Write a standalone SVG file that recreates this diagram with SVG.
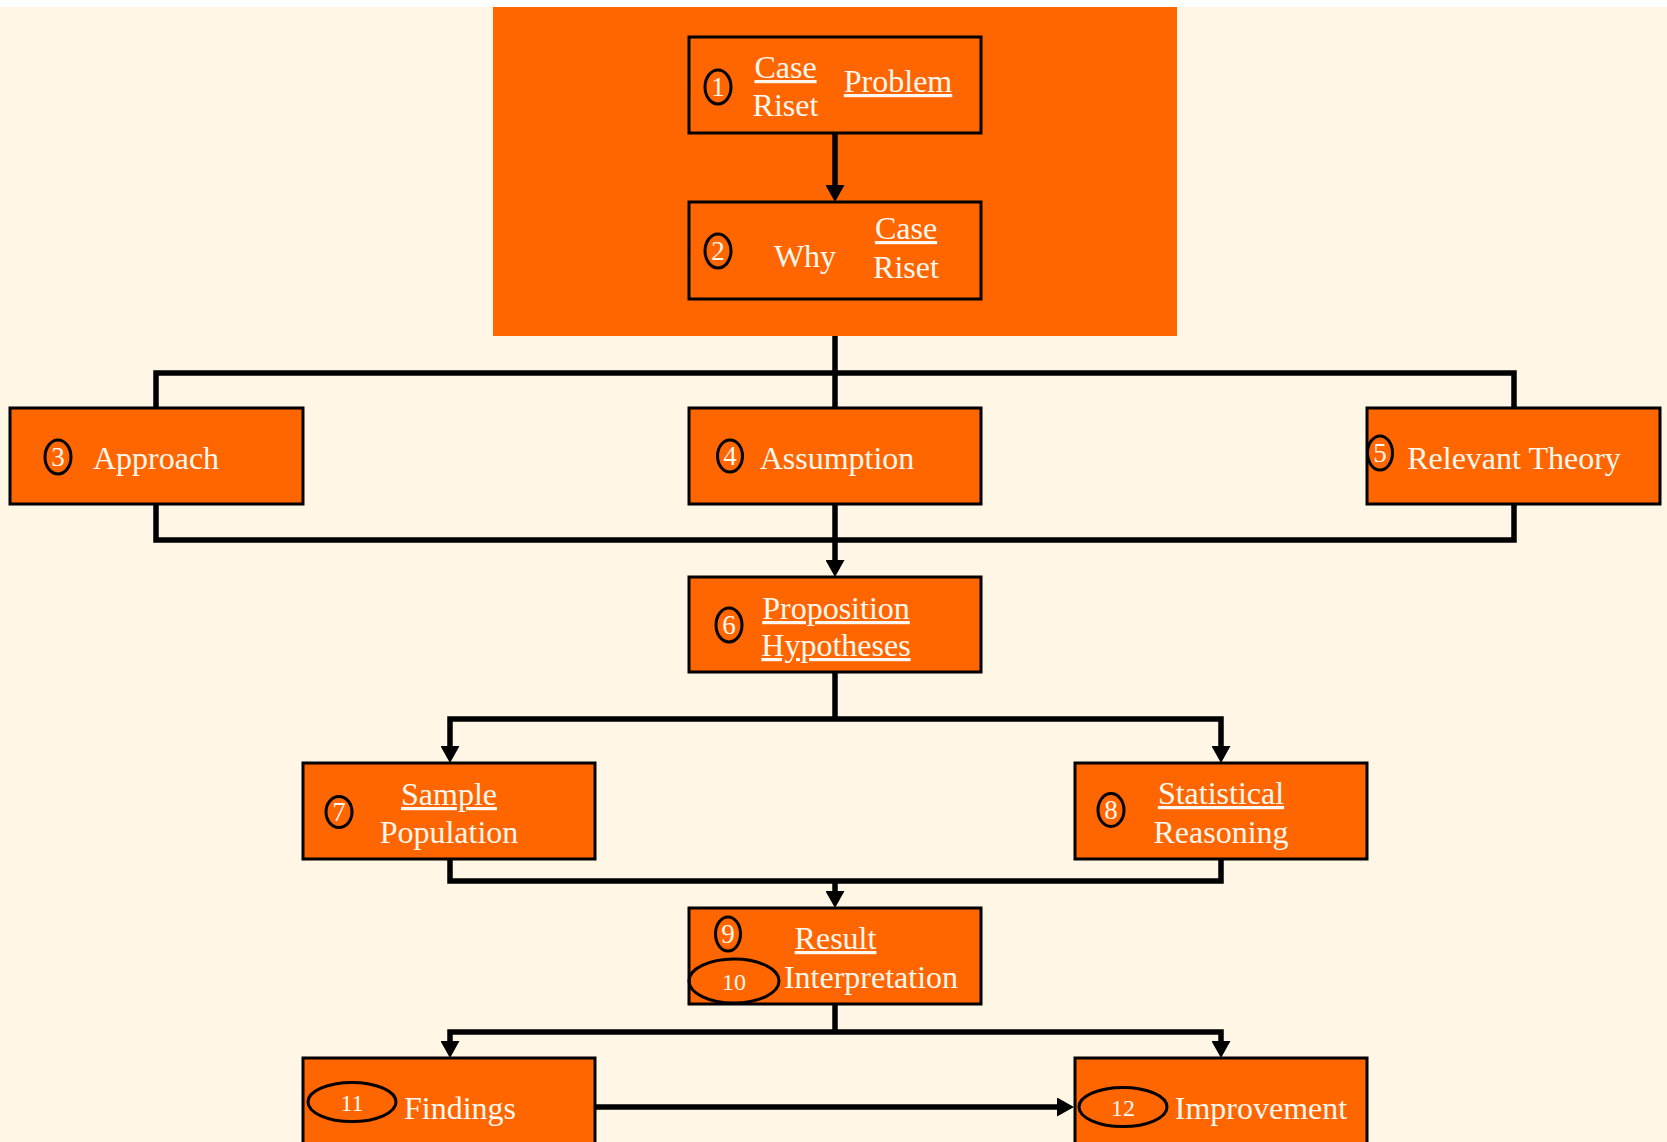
<svg xmlns="http://www.w3.org/2000/svg" width="1667" height="1142" viewBox="0 0 1667 1142">
<style>
.box{fill:#FF6600;stroke:#000;stroke-width:3}
.conn{fill:none;stroke:#000;stroke-width:5.5;stroke-linejoin:miter}
.t{font-family:"Liberation Serif","Times New Roman",serif;font-size:32px;fill:#FFF8F0}
.u{text-decoration:underline}
.m{text-anchor:middle}
.num{fill:none;stroke:#000;stroke-width:3}
.d{font-family:"Liberation Serif","Times New Roman",serif;font-size:27px;fill:#FFF8F0;text-anchor:middle}
.d2{font-family:"Liberation Serif","Times New Roman",serif;font-size:24px;fill:#FFF8F0;text-anchor:middle}
</style>
<defs>
<marker id="ah" markerUnits="userSpaceOnUse" markerWidth="19" markerHeight="19" viewBox="0 0 19 19" refX="0" refY="9.5" orient="auto">
<path d="M0,0 L17,9.5 L0,19 z" fill="#000"/>
</marker>
</defs>
<rect x="0" y="0" width="1667" height="1142" fill="#FFF6E5"/>
<rect x="0" y="0" width="1667" height="7" fill="#FFFFFF"/>
<rect id="panel" x="493" y="7" width="684" height="329" fill="#FF6600"/>

<g id="connectors">
<path class="conn" d="M835,133 V185" marker-end="url(#ah)"/>
<path class="conn" d="M835,336 V408"/>
<path class="conn" d="M156,408 V373 H1514 V408"/>
<path class="conn" d="M156,504 V540 H1514 V504"/>
<path class="conn" d="M835,504 V560" marker-end="url(#ah)"/>
<path class="conn" d="M835,672 V719"/>
<path class="conn" d="M835,719 H450 V746" marker-end="url(#ah)"/>
<path class="conn" d="M835,719 H1221 V746" marker-end="url(#ah)"/>
<path class="conn" d="M450,859 V881 H1221 V859"/>
<path class="conn" d="M835,881 V891" marker-end="url(#ah)"/>
<path class="conn" d="M835,1004 V1032"/>
<path class="conn" d="M835,1032 H450 V1041" marker-end="url(#ah)"/>
<path class="conn" d="M835,1032 H1221 V1041" marker-end="url(#ah)"/>
<path class="conn" d="M596,1107 H1057" marker-end="url(#ah)"/>
</g>

<g id="n1">
<rect class="box" x="689" y="37" width="292" height="96"/>
<ellipse class="num" cx="718" cy="87" rx="13" ry="17"/>
<text class="d" x="718" y="96">1</text>
<text class="t m u" x="785.5" y="78">Case</text>
<text class="t m" x="785.5" y="116">Riset</text>
<text class="t m u" x="898" y="92">Problem</text>
</g>

<g id="n2">
<rect class="box" x="689" y="202" width="292" height="97"/>
<ellipse class="num" cx="718" cy="251" rx="13" ry="17"/>
<text class="d" x="718" y="260">2</text>
<text class="t m" x="805" y="267">Why</text>
<text class="t m u" x="906" y="239">Case</text>
<text class="t m" x="906" y="278">Riset</text>
</g>

<g id="n3">
<rect class="box" x="10" y="408" width="293" height="96"/>
<ellipse class="num" cx="58" cy="457" rx="13" ry="17"/>
<text class="d" x="58" y="466">3</text>
<text class="t m" x="156" y="469">Approach</text>
</g>

<g id="n4">
<rect class="box" x="689" y="408" width="292" height="96"/>
<ellipse class="num" cx="730" cy="456" rx="12.5" ry="16"/>
<text class="d" x="730" y="465">4</text>
<text class="t m" x="837" y="469">Assumption</text>
</g>

<g id="n5">
<rect class="box" x="1367" y="408" width="293" height="96"/>
<ellipse class="num" cx="1380" cy="453" rx="12.5" ry="17"/>
<text class="d" x="1380" y="462">5</text>
<text class="t m" x="1514" y="469">Relevant Theory</text>
</g>

<g id="n6">
<rect class="box" x="689" y="577" width="292" height="95"/>
<ellipse class="num" cx="729" cy="625" rx="13" ry="17"/>
<text class="d" x="729" y="634">6</text>
<text class="t m u" x="836" y="619">Proposition</text>
<text class="t m u" x="836" y="656">Hypotheses</text>
</g>

<g id="n7">
<rect class="box" x="303" y="763" width="292" height="96"/>
<ellipse class="num" cx="339" cy="812" rx="13" ry="15.5"/>
<text class="d" x="339" y="821">7</text>
<text class="t m u" x="449" y="805">Sample</text>
<text class="t m" x="449" y="843">Population</text>
</g>

<g id="n8">
<rect class="box" x="1075" y="763" width="292" height="96"/>
<ellipse class="num" cx="1111" cy="810" rx="13" ry="16.5"/>
<text class="d" x="1111" y="819">8</text>
<text class="t m u" x="1221" y="804">Statistical</text>
<text class="t m" x="1221" y="843">Reasoning</text>
</g>

<g id="n9">
<rect class="box" x="689" y="908" width="292" height="96"/>
<ellipse class="num" cx="728" cy="934" rx="12.5" ry="17"/>
<text class="d" x="728" y="943">9</text>
<ellipse class="num" cx="734" cy="981" rx="45" ry="22"/>
<text class="d2" x="734" y="990">10</text>
<text class="t m u" x="835.5" y="949">Result</text>
<text class="t m" x="871" y="988">Interpretation</text>
</g>

<g id="n11">
<rect class="box" x="303" y="1058" width="292" height="100"/>
<ellipse class="num" cx="352" cy="1102" rx="44" ry="19.5"/>
<text class="d2" x="352" y="1111">11</text>
<text class="t m" x="460" y="1119">Findings</text>
</g>

<g id="n12">
<rect class="box" x="1075" y="1058" width="292" height="100"/>
<ellipse class="num" cx="1123" cy="1107" rx="44" ry="19.5"/>
<text class="d2" x="1123" y="1116">12</text>
<text class="t m" x="1261" y="1119">Improvement</text>
</g>
</svg>
